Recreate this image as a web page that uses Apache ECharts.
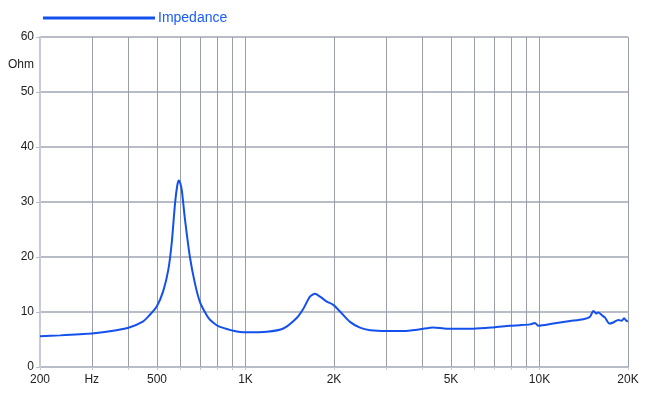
<!DOCTYPE html>
<html>
<head>
<meta charset="utf-8">
<script src="https://cdn.jsdelivr.net/npm/echarts@6/dist/echarts.min.js"></script>
<style>html,body{margin:0;padding:0;background:#fff;}#c{width:650px;height:396px;}</style>
</head>
<body>
<div id="c"></div>
<script>
// Frequency (Hz) and impedance (Ohm)
const freqs = [200, 234, 300, 346, 400, 449, 473, 499, 525, 546, 561, 576, 586, 593, 600, 607, 623, 647, 673, 700, 738, 757, 798, 819, 909, 1002, 1181, 1345, 1493, 1573, 1657, 1723, 1792, 1889, 1989, 2096, 2267, 2452, 2652, 3022, 3442, 3922, 4354, 4835, 5954, 6966, 7936, 8586, 9284, 9654, 9906, 11140, 12696, 14093, 14854, 15242, 15568, 15850, 16276, 16706, 17278, 17826, 18535, 19038, 19384, 19798, 20000];
const impedance = [5.6, 5.75, 6.1, 6.5, 7.15, 8.3, 9.5, 11.0, 13.8, 17.6, 22.5, 29.8, 33.0, 33.9, 33.4, 32.2, 26.7, 20.0, 15.2, 11.8, 9.4, 8.6, 7.6, 7.3, 6.6, 6.3, 6.4, 7.0, 8.9, 10.6, 12.8, 13.3, 12.8, 11.9, 11.3, 10.1, 8.2, 7.15, 6.7, 6.55, 6.55, 6.85, 7.2, 6.97, 6.97, 7.2, 7.5, 7.6, 7.75, 8.0, 7.5, 7.9, 8.35, 8.7, 9.15, 10.2, 9.75, 9.9, 9.45, 8.97, 7.9, 8.1, 8.55, 8.4, 8.85, 8.35, 8.3];
const gridFreqs = [200, 300, 400, 500, 600, 700, 800, 900, 1000, 2000, 3000, 4000, 5000, 6000, 7000, 8000, 9000, 10000, 20000];
const labelFreqs = [200, 300, 500, 1000, 2000, 5000, 10000, 20000];
const labelText = {200: '200', 300: 'Hz', 500: '500', 1000: '1K', 2000: '2K', 5000: '5K', 10000: '10K', 20000: '20K'};

const chart = echarts.init(document.getElementById('c'));
const font = 'Liberation Sans, Arial, sans-serif';
chart.setOption({
  animation: false,
  grid: {left: 40, right: 22, top: 37, bottom: 29},
  legend: {
    data: ['Impedance'], left: 38, top: 6, icon: 'rect', itemWidth: 112, itemHeight: 3,
    textStyle: {color: '#1a5cff', fontSize: 14, fontFamily: font, padding: [0, 0, 0, -2]},
    itemStyle: {color: '#1450ec'}
  },
  xAxis: {
    type: 'log', logBase: 10, min: 200, max: 20000,
    axisLine: {show: true, lineStyle: {color: '#b8bec9', width: 1}},
    axisTick: {show: true, customValues: gridFreqs, length: 3, lineStyle: {color: '#c5ccd8'}},
    axisLabel: {customValues: labelFreqs, formatter: v => labelText[Math.round(v)] || '', color: '#222', fontSize: 12, fontFamily: font, margin: 7},
    splitLine: {show: true, lineStyle: {color: '#9a9ea8', width: 1}}
  },
  yAxis: {
    type: 'value', min: 0, max: 60, interval: 10,
    axisLine: {show: true, lineStyle: {color: '#c5ccd8', width: 2}},
    axisTick: {show: true, length: 4, lineStyle: {color: '#b8bec9'}},
    axisLabel: {color: '#222', fontSize: 12, fontFamily: font, margin: 6},
    splitLine: {show: true, lineStyle: {color: '#b8bcc6', width: 2}}
  },
  graphic: [{type: 'text', left: 8, top: 59, style: {text: 'Ohm', fill: '#222', font: '12px ' + font}}],
  series: [{
    name: 'Impedance', type: 'line', smooth: 0.25, showSymbol: false,
    lineStyle: {color: '#1450ec', width: 2}, itemStyle: {color: '#1450ec'},
    data: freqs.map((f, i) => [f, impedance[i]])
  }]
});
</script>
</body>
</html>
